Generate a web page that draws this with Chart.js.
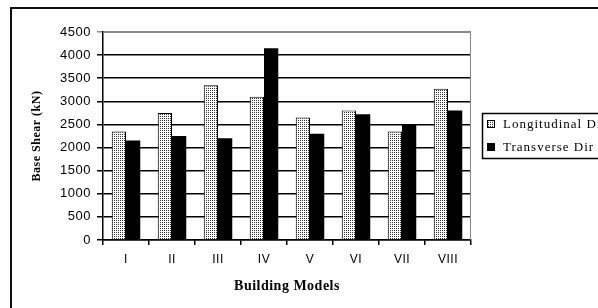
<!DOCTYPE html>
<html>
<head>
<meta charset="utf-8">
<script src="https://cdn.jsdelivr.net/npm/chart.js@4"></script>
<style>
  body { margin: 0; background: #fff; }
  #wrap { width: 598px; height: 308px; position: relative; }
</style>
</head>
<body>
<div id="wrap"><canvas id="shearChart" width="598" height="308"></canvas></div>
<script>
  // data
  const models = ['I', 'II', 'III', 'IV', 'V', 'VI', 'VII', 'VIII'];
  const longitudinal = [2350, 2750, 3350, 3100, 2650, 2800, 2350, 3270];
  const transverse = [2150, 2250, 2200, 4150, 2300, 2720, 2500, 2800];
  const yTicks = [0, 500, 1000, 1500, 2000, 2500, 3000, 3500, 4000, 4500];

  // stippled fill for the longitudinal bars
  function makeDots() {
    const c = document.createElement('canvas');
    c.width = 4; c.height = 4;
    const g = c.getContext('2d');
    g.fillStyle = '#fff';
    g.fillRect(0, 0, 4, 4);
    g.fillStyle = '#333';
    g.fillRect(0, 0, 1, 1);
    g.fillRect(2, 2, 1, 1);
    g.fillRect(2, 0, 1, 1);
    g.fillRect(0, 2, 1, 1);
    return g.createPattern(c, 'repeat');
  }
  const dots = makeDots();

  // frame around the figure, grey plot border, boxed legend
  const framePlugin = {
    id: 'frame',
    beforeDraw(chart) {
      const ctx = chart.ctx;
      ctx.letterSpacing = '0.5px';
      ctx.save();
      ctx.strokeStyle = '#111';
      ctx.lineWidth = 2;
      ctx.strokeRect(11, 8, 620, 330);
      ctx.restore();
    },
    afterDraw(chart) {
      const ctx = chart.ctx;
      const a = chart.chartArea;
      ctx.save();
      ctx.strokeStyle = '#888';
      ctx.lineWidth = 1;
      ctx.beginPath();
      ctx.moveTo(a.left, a.top + 0.5);
      ctx.lineTo(a.right - 0.5, a.top + 0.5);
      ctx.lineTo(a.right - 0.5, a.bottom);
      ctx.stroke();

      // legend
      const lx = 482, ly = 113;
      ctx.strokeStyle = '#000';
      ctx.lineWidth = 1.5;
      ctx.strokeRect(lx + 0.5, ly + 0.5, 200, 45);
      ctx.font = '13px "Liberation Serif"';
      ctx.letterSpacing = '1px';
      ctx.textBaseline = 'middle';
      chart.data.datasets.forEach(function (ds, i) {
        const y = ly + 11 + i * 23;
        ctx.fillStyle = ds.backgroundColor;
        ctx.fillRect(lx + 5, y - 4, 8, 8);
        ctx.strokeStyle = '#000';
        ctx.lineWidth = 1;
        ctx.strokeRect(lx + 5.5, y - 3.5, 7, 7);
        ctx.fillStyle = '#000';
        ctx.fillText(ds.label, lx + 21, y + 1);
      });
      ctx.restore();
    }
  };

  new Chart(document.getElementById('shearChart'), {
    type: 'bar',
    data: {
      labels: models,
      datasets: [{
        label: 'Longitudinal Dir',
        data: longitudinal,
        backgroundColor: dots,
        borderColor: '#000',
        borderWidth: 1
      }, {
        label: 'Transverse Dir',
        data: transverse,
        backgroundColor: '#000',
        borderColor: '#000',
        borderWidth: 0
      }]
    },
    options: {
      responsive: false,
      animation: false,
      layout: { padding: { left: 0, top: 32, right: 127, bottom: 0 } },
      datasets: { bar: { categoryPercentage: 0.62, barPercentage: 1 } },
      plugins: { legend: { display: false }, tooltip: { enabled: false } },
      scales: {
        x: {
          afterFit: function (s) { s.height = 68; },
          grid: {
            offset: true,
            drawOnChartArea: false,
            tickLength: 5,
            color: '#000',
            lineWidth: 1.5
          },
          border: { color: '#000', width: 1.5 },
          ticks: {
            color: '#000',
            padding: 7,
            font: { family: '"Liberation Sans"', size: 12 }
          },
          title: {
            display: true,
            text: 'Building Models',
            color: '#000',
            font: { family: '"Liberation Serif"', size: 14, weight: 'bold' },
            padding: { top: 0, bottom: 13 }
          }
        },
        y: {
          min: 0,
          max: 4500,
          afterFit: function (s) { s.width = 103; },
          afterBuildTicks: function (s) { s.ticks = yTicks.map(function (v) { return { value: v }; }); },
          grid: {
            tickLength: 6,
            lineWidth: 1.5,
            color: function (c) { return c.tick && c.tick.value === 4500 ? '#888' : '#000'; }
          },
          border: { color: '#000', width: 1.5 },
          ticks: {
            color: '#000',
            padding: 6,
            font: { family: '"Liberation Sans"', size: 13 },
            callback: function (v) { return String(v); }
          },
          title: {
            display: true,
            text: 'Base Shear (kN)',
            color: '#000',
            font: { family: '"Liberation Serif"', size: 12, weight: 'bold' },
            padding: { top: 30, bottom: 0 }
          }
        }
      }
    },
    plugins: [framePlugin]
  });
</script>
</body>
</html>
